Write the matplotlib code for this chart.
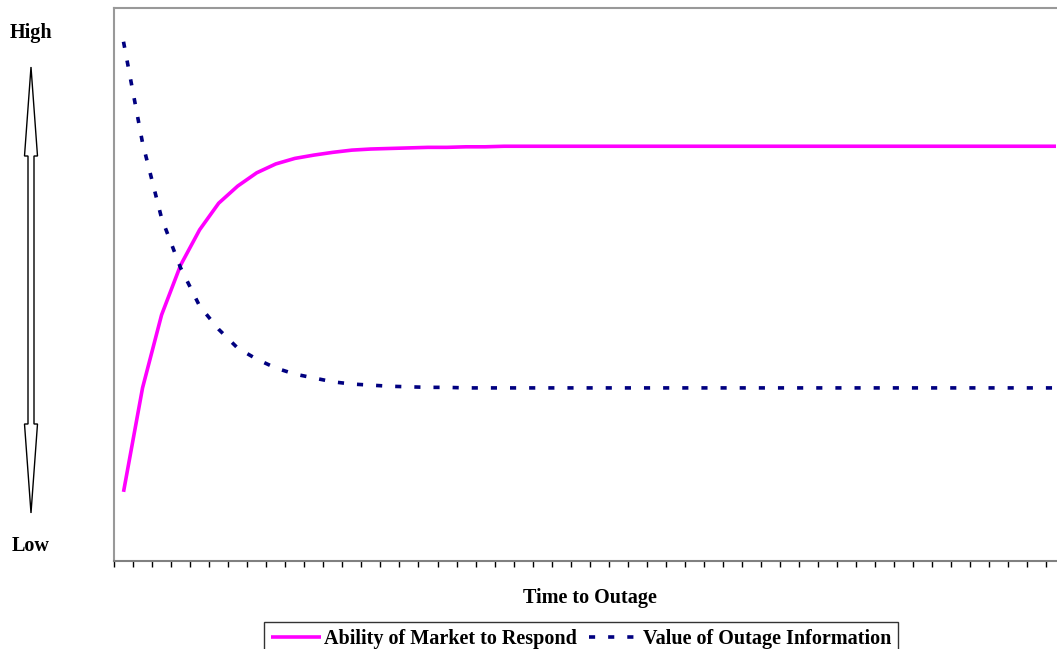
import matplotlib.pyplot as plt
from matplotlib.patches import Polygon
import numpy as np

# Series values (relative scale 0-100)
ability = [12.5, 31.3, 44.5, 53.5, 59.9, 64.7, 67.8, 70.2, 71.8, 72.8,
           73.4, 73.9, 74.3, 74.5, 74.6, 74.7, 74.8, 74.8, 74.9, 74.9] + [75.0] * 30
value_info = [93.9, 75.6, 62.0, 53.0, 46.1, 41.9, 38.5, 36.5, 34.9, 33.8,
              33.1, 32.4, 32.0, 31.8, 31.6, 31.5, 31.4, 31.4] + [31.3] * 32
periods = np.arange(len(ability))

series_names = ['Ability of Market to Respond', 'Value of Outage Information']
x_label = 'Time to Outage'
y_top_label = 'High'
y_bottom_label = 'Low'

W, H = 1057, 649
fig = plt.figure(figsize=(W / 100, H / 100), dpi=100)
plt.rcParams['font.family'] = ['Liberation Serif', 'DejaVu Serif']
fs = 14.5

# plot area: left edge at 114px, category step ~19px, runs past the right edge
step = 19.03
left, top, bottom = 114, 8, 561
width = step * len(periods)
ax = fig.add_axes([left / W, 1 - bottom / H, width / W, (bottom - top) / H])

ax.plot(periods, ability, color='#FF00FF', lw=2.6, solid_capstyle='butt',
        label=series_names[0])
ax.plot(periods, value_info, color='#000080', lw=2.6, dashes=(1.7, 3.6),
        label=series_names[1])

ax.set_xlim(-0.5, len(periods) - 0.5)
ax.set_ylim(0, 100)
ax.set_yticks([])
ax.set_xticks(np.arange(len(periods) + 1) - 0.5)
ax.set_xticklabels([])
ax.tick_params(axis='x', direction='out', length=4.5, width=1, color='black')
for side in ['left', 'top', 'right']:
    ax.spines[side].set_color('#999999')
    ax.spines[side].set_linewidth(1.5)
ax.spines['bottom'].set_color('#808080')
ax.spines['bottom'].set_linewidth(1.5)

fig.text(590 / W, 1 - 598 / H, x_label, ha='center', va='center',
         fontsize=fs, fontweight='bold')
fig.text(31 / W, 1 - 33 / H, y_top_label, ha='center', va='center',
         fontsize=fs, fontweight='bold')
fig.text(31 / W, 1 - 546 / H, y_bottom_label, ha='center', va='center',
         fontsize=fs, fontweight='bold')

# double-headed outline arrow on the left
cx, y0, y1 = 31, 67, 513
head_len, head_w, shaft_w = 89, 13, 6
pts = [
    (cx, y0),
    (cx + head_w / 2, y0 + head_len),
    (cx + shaft_w / 2, y0 + head_len),
    (cx + shaft_w / 2, y1 - head_len),
    (cx + head_w / 2, y1 - head_len),
    (cx, y1),
    (cx - head_w / 2, y1 - head_len),
    (cx - shaft_w / 2, y1 - head_len),
    (cx - shaft_w / 2, y0 + head_len),
    (cx - head_w / 2, y0 + head_len),
]
pts = [(px / W, 1 - py / H) for px, py in pts]
fig.patches.append(Polygon(pts, closed=True, facecolor='white',
                           edgecolor='black', lw=1.0,
                           transform=fig.transFigure, figure=fig))

leg = fig.legend(loc='upper center', bbox_to_anchor=(581 / W, 1 - 622 / H),
                 ncol=2, frameon=True, fancybox=False, edgecolor='black',
                 prop={'weight': 'bold', 'size': fs}, handlelength=2.5,
                 columnspacing=0.6, handletextpad=0.15, borderaxespad=0,
                 borderpad=0.35)
leg.get_frame().set_linewidth(1.0)

fig.savefig('out.png', dpi=100)
